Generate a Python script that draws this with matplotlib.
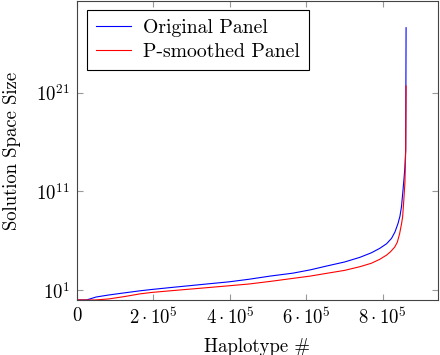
import numpy as np
import matplotlib
matplotlib.use("Agg")
import matplotlib.pyplot as plt

plt.rcParams['font.family'] = ['cmr10', 'DejaVu Serif']
plt.rcParams['mathtext.fontset'] = 'cm'
plt.rcParams['axes.formatter.use_mathtext'] = True

# haplotype index (x 1e5) and log10 of solution space size
hap_orig = [0, 0.25, 0.5, 0.82, 1.2, 1.65, 1.97, 2.5, 3.0, 3.5, 3.98, 4.5, 5.05, 5.65, 6.1,
            6.53, 7.0, 7.4, 7.7, 7.92, 8.1, 8.23, 8.32, 8.40, 8.45, 8.49, 8.53, 8.56, 8.58, 8.60, 8.61]
log_orig = [0, 0, 0.3, 0.5, 0.7, 0.93, 1.07, 1.28, 1.47, 1.66, 1.84, 2.1, 2.42, 2.72, 3.05,
            3.44, 3.85, 4.32, 4.78, 5.23, 5.7, 6.25, 6.9, 7.77, 8.5, 9.46, 11.15, 12.5, 13.5, 15.2, 27.6]

hap_smooth = [0, 0.47, 0.82, 1.25, 1.65, 1.97, 2.5, 3.08, 3.5, 3.98, 4.5, 5.05, 5.65, 6.1, 6.53,
              7.0, 7.4, 7.7, 7.92, 8.1, 8.2, 8.31, 8.38, 8.44, 8.49, 8.52, 8.55, 8.58, 8.60, 8.61]
log_smooth = [0, 0, 0.1, 0.35, 0.62, 0.77, 0.95, 1.14, 1.28, 1.44, 1.62, 1.88, 2.19, 2.42, 2.70,
              3.0, 3.37, 3.72, 4.12, 4.55, 4.88, 5.35, 5.85, 6.7, 7.7, 8.44, 10.1, 11.9, 15.2, 21.7]

xticks = [0, 2e5, 4e5, 6e5, 8e5]
xticklabels = ['$0$', r'$2\cdot10^{5}$', r'$4\cdot10^{5}$', r'$6\cdot10^{5}$', r'$8\cdot10^{5}$']
yticks = [1e1, 1e11, 1e21]
yticklabels = ['$10^{1}$', '$10^{11}$', '$10^{21}$']

fig = plt.figure(figsize=(4.4, 3.55), dpi=100)
ax = fig.add_axes([0.175, 0.155, 0.82, 0.842])

ax.plot(np.array(hap_orig) * 1e5, 10.0 ** np.array(log_orig), color='blue', lw=0.8, label='Original Panel')
ax.plot(np.array(hap_smooth) * 1e5, 10.0 ** np.array(log_smooth), color='red', lw=0.8, label='P-smoothed Panel')

ax.set_yscale('log')
ax.set_xlim(0, 9.44e5)
ax.set_ylim(1, 10 ** 30.3)
ax.set_xticks(xticks)
ax.set_xticklabels(xticklabels)
ax.set_yticks(yticks)
ax.set_yticklabels(yticklabels)
ax.minorticks_off()
ax.tick_params(direction='in', top=True, right=True, length=4, color='#999999', labelsize=13.5, pad=5)
for s in ax.spines.values():
    s.set_color('#444444')
    s.set_linewidth(0.8)

ax.set_xlabel('Haplotype #', fontsize=13.5, labelpad=7)
ax.set_ylabel('Solution Space Size', fontsize=13.5, labelpad=11)

leg = ax.legend(loc='upper left', fontsize=14.2, fancybox=False, edgecolor='black',
                framealpha=1, handlelength=1.8, borderpad=0.45, labelspacing=0.3,
                handletextpad=0.6, borderaxespad=0, bbox_to_anchor=(0.028, 0.97))
leg.get_frame().set_linewidth(0.8)

fig.savefig('out.png', dpi=100)
